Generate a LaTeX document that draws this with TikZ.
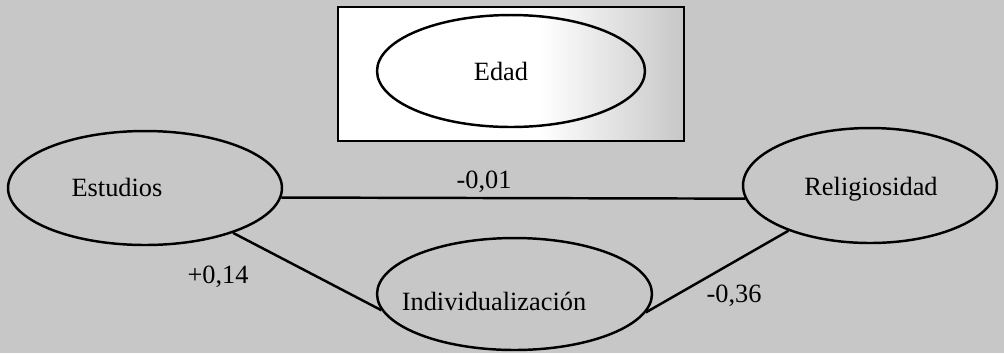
\documentclass[tikz,border=0pt]{standalone}
\usepackage{fontspec}
\setmainfont{Liberation Serif}
\usetikzlibrary{shapes.geometric}
\definecolor{bg}{gray}{0.78}
\tikzset{
  var/.style={draw=black, ellipse, line width=1.4pt, inner sep=0pt},
  txt/.style={font=\fontsize{15}{18}\selectfont, inner sep=0pt, anchor=base},
  conn/.style={line width=1.4pt},
  frame/.style={draw=black, line width=1.2pt}
}
\begin{document}
\begin{tikzpicture}[x=0.02cm,y=-0.02cm]
\fill[bg] (0,0) rectangle (1004,353);
\useasboundingbox (0,0) rectangle (1004,353);
% framed box around Edad
\fill[white] (338,7) rectangle (684,141);
\shade[left color=white, right color=bg] (540,7) rectangle (684,141);
\draw[frame] (338,7) rectangle (684,141);
% variables
\node[var, minimum width=5.36cm, minimum height=2.24cm] (edad) at (511,71) {};
\node[var, minimum width=5.48cm, minimum height=2.28cm] (estudios) at (145,188) {};
\node[var, minimum width=5.08cm, minimum height=2.30cm] (relig) at (870,185.5) {};
\node[var, minimum width=5.50cm, minimum height=2.24cm] (indiv) at (514.5,294) {};
% texts
\node[txt] (tedad) at (501,80) {Edad};
\node[txt] (testudios) at (117,196) {Estudios};
\node[txt] (trelig) at (871,195) {Religiosidad};
\node[txt] (tindiv) at (494,310) {Individualización};
% connectors
\draw[conn] (estudios.-4) -- (relig.186);
\draw[conn] (estudios.-27) -- (indiv.187);
\draw[conn] (indiv.-8) -- (relig.209);
% coefficients
\node[txt] (c1) at (484,188) {-0,01};
\node[txt] (c2) at (218,283) {+0,14};
\node[txt] (c3) at (734,302) {-0,36};
\end{tikzpicture}
\end{document}
